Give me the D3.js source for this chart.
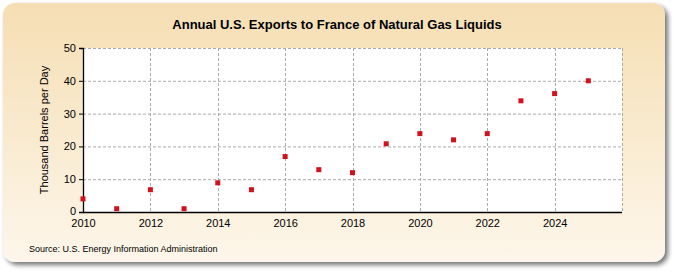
<!DOCTYPE html>
<html><head><meta charset="utf-8">
<script src="https://cdn.jsdelivr.net/npm/d3@7"></script>
<style>html,body{margin:0;padding:0;background:#fff;}svg{display:block;}</style>
</head><body>
<svg id="c" width="675" height="275"></svg>
<script>
const years = [2010,2011,2012,2013,2014,2015,2016,2017,2018,2019,2020,2021,2022,2023,2024,2025];
const values = [4,1,6.8,1,8.9,6.8,16.9,12.9,12,20.8,23.9,22,23.9,33.9,36.1,40];
const xTicks = [2010,2012,2014,2016,2018,2020,2022,2024];
const yTicks = [0,10,20,30,40,50];
const title = "Annual U.S. Exports to France of Natural Gas Liquids";
const yLabel = "Thousand Barrels per Day";
const source = "Source: U.S. Energy Information Administration";

const svg = d3.select("#c");
const defs = svg.append("defs");
const g = defs.append("linearGradient").attr("id","bg").attr("x1",0).attr("y1",0).attr("x2",0).attr("y2",1);
g.append("stop").attr("offset","0%").attr("stop-color","#f5deb3");
g.append("stop").attr("offset","100%").attr("stop-color","#fdf6ea");
const f = defs.append("filter").attr("id","sh").attr("x","-5%").attr("y","-5%").attr("width","110%").attr("height","115%");
f.append("feGaussianBlur").attr("in","SourceAlpha").attr("stdDeviation",2.5);
f.append("feOffset").attr("dx",3).attr("dy",3).attr("result","b");
f.append("feComponentTransfer").append("feFuncA").attr("type","linear").attr("slope",0.55);
const m = f.append("feMerge"); m.append("feMergeNode"); m.append("feMergeNode").attr("in","SourceGraphic");

svg.append("rect").attr("x",3).attr("y",3).attr("width",662).attr("height",259).attr("rx",12)
  .attr("fill","url(#bg)").attr("filter","url(#sh)");

const L=83, R=622, T=48, B=212;
const x = d3.scaleLinear().domain([2010,2026]).range([L,R]);
const y = d3.scaleLinear().domain([0,50]).range([B,T]);

svg.append("rect").attr("x",L).attr("y",T).attr("width",R-L).attr("height",B-T).attr("fill","#fff");

// grid
svg.append("g").selectAll("line").data(yTicks.filter(d=>d>0)).join("line")
  .attr("x1",L).attr("x2",R).attr("y1",d=>y(d)+0.5).attr("y2",d=>y(d)+0.5)
  .attr("stroke","#aaa").attr("stroke-dasharray","3,2");
svg.append("g").selectAll("line").data(xTicks.filter(d=>d>2010).concat([2026])).join("line")
  .attr("x1",d=>Math.round(x(d))+0.5).attr("x2",d=>Math.round(x(d))+0.5).attr("y1",T).attr("y2",B)
  .attr("stroke","#aaa").attr("stroke-dasharray","3,2");

const font = "'Liberation Sans', Arial, sans-serif";
const ya = svg.append("g").attr("transform",`translate(${L},0)`)
  .call(d3.axisLeft(y).tickValues(yTicks).tickSize(4).tickPadding(3));
const xa = svg.append("g").attr("transform",`translate(0,${B})`)
  .call(d3.axisBottom(x).tickValues(xTicks).tickFormat(d3.format("d")).tickSize(0).tickPadding(7));
[ya,xa].forEach(a=>{
  a.selectAll("text").attr("font-family",font).attr("font-size",11).attr("fill","#000");
  a.selectAll("line").attr("stroke","#000");
  a.select(".domain").attr("stroke","#000").attr("stroke-width",1.3);
});
ya.selectAll(".tick text").filter(d=>d===0).attr("dy","0.2em");
xa.select(".domain").attr("d",`M${L},0.5H${R}`);

svg.append("g").selectAll("rect").data(years).join("rect")
  .attr("x",(d)=>x(d)-2.5).attr("y",(d,i)=>y(values[i])-2.5).attr("width",5).attr("height",5)
  .attr("fill","#d2101e");

svg.append("text").attr("x",337).attr("y",29).attr("text-anchor","middle")
  .attr("font-family",font).attr("font-size",13).attr("font-weight","bold").text(title);
svg.append("text").attr("transform",`translate(48,${(T+B)/2}) rotate(-90)`).attr("text-anchor","middle")
  .attr("font-family",font).attr("font-size",11).text(yLabel);
svg.append("text").attr("x",29).attr("y",252).attr("font-family",font).attr("font-size",9).text(source);
</script>
</body></html>
